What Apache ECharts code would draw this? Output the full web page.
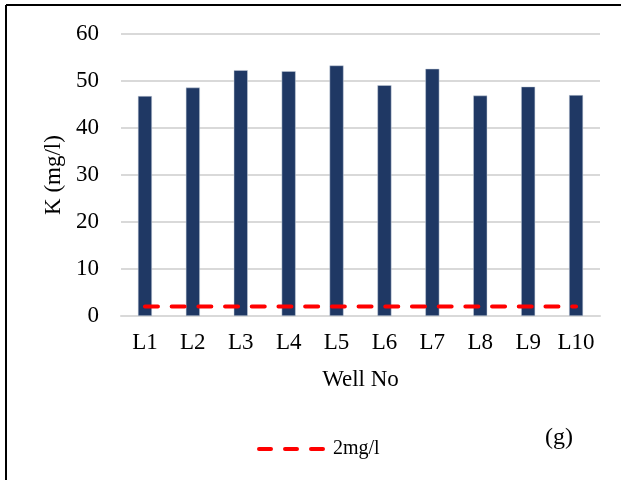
<!DOCTYPE html>
<html>
<head>
<meta charset="utf-8">
<script src="https://cdn.jsdelivr.net/npm/echarts@6/dist/echarts.min.js"></script>
<style>
  html, body { margin: 0; padding: 0; background: #fff; }
  #chart { width: 621px; height: 480px; }
</style>
</head>
<body>
<div id="chart"></div>
<script>
// well data
var wells = ['L1', 'L2', 'L3', 'L4', 'L5', 'L6', 'L7', 'L8', 'L9', 'L10']
var potassium = [46.8, 48.6, 52.3, 52.1, 53.3, 49.1, 52.6, 46.9, 48.8, 47.0]
var limit = [2, 2, 2, 2, 2, 2, 2, 2, 2, 2]

var font = 'Liberation Serif, Times New Roman, serif'
var chart = echarts.init(document.getElementById('chart'))

chart.setOption({
  animation: false,
  textStyle: { fontFamily: font, color: '#000' },
  grid: { left: 121, right: 21, top: 34, bottom: 164 },
  graphic: [
    { type: 'line', shape: { x1: 6, y1: 5, x2: 621, y2: 5 }, style: { stroke: '#000', lineWidth: 2 } },
    { type: 'line', shape: { x1: 6, y1: 5, x2: 6, y2: 480 }, style: { stroke: '#000', lineWidth: 2 } },
    { type: 'text', left: 545, top: 426, style: { text: '(g)', fontFamily: font, fontSize: 24, fill: '#000' } }
  ],
  legend: {
    bottom: 16,
    left: 252,
    itemWidth: 68,
    itemHeight: 4,
    textStyle: { fontFamily: font, fontSize: 20, color: '#000', padding: [0, 0, 0, 3] },
    data: [{ name: '2mg/l', icon: 'path://M2,0h12a2,2 0 0 1 0,4h-12a2,2 0 0 1 0,-4z M28,0h12a2,2 0 0 1 0,4h-12a2,2 0 0 1 0,-4z M54,0h12a2,2 0 0 1 0,4h-12a2,2 0 0 1 0,-4z', itemStyle: { color: '#ff0000' } }]
  },
  xAxis: {
    type: 'category',
    data: wells,
    name: 'Well No',
    nameLocation: 'middle',
    nameGap: 52,
    nameTextStyle: { fontFamily: font, fontSize: 23, color: '#000' },
    axisLine: { lineStyle: { color: '#d9d9d9', width: 2 } },
    axisTick: { show: false },
    axisLabel: { interval: 0, hideOverlap: false, fontFamily: font, fontSize: 23, color: '#000', margin: 15 }
  },
  yAxis: {
    type: 'value',
    min: 0,
    max: 60,
    interval: 10,
    name: 'K (mg/l)',
    nameLocation: 'middle',
    nameGap: 53,
    nameTextStyle: { fontFamily: font, fontSize: 23, color: '#000' },
    axisLine: { show: false },
    axisTick: { show: false },
    splitLine: { lineStyle: { color: '#d9d9d9', width: 2 } },
    axisLabel: { fontFamily: font, fontSize: 23, color: '#000', margin: 22 }
  },
  series: [
    {
      name: 'K',
      type: 'bar',
      data: potassium,
      barWidth: 14,
      itemStyle: { color: '#1f3864', borderColor: '#c9d0dc', borderWidth: 0.5 }
    },
    {
      name: '2mg/l',
      type: 'line',
      data: limit,
      symbol: 'none',
      z: 5,
      lineStyle: { color: '#ff0000', width: 4, type: [13, 13.7], cap: 'round' }
    }
  ]
})
</script>
</body>
</html>
